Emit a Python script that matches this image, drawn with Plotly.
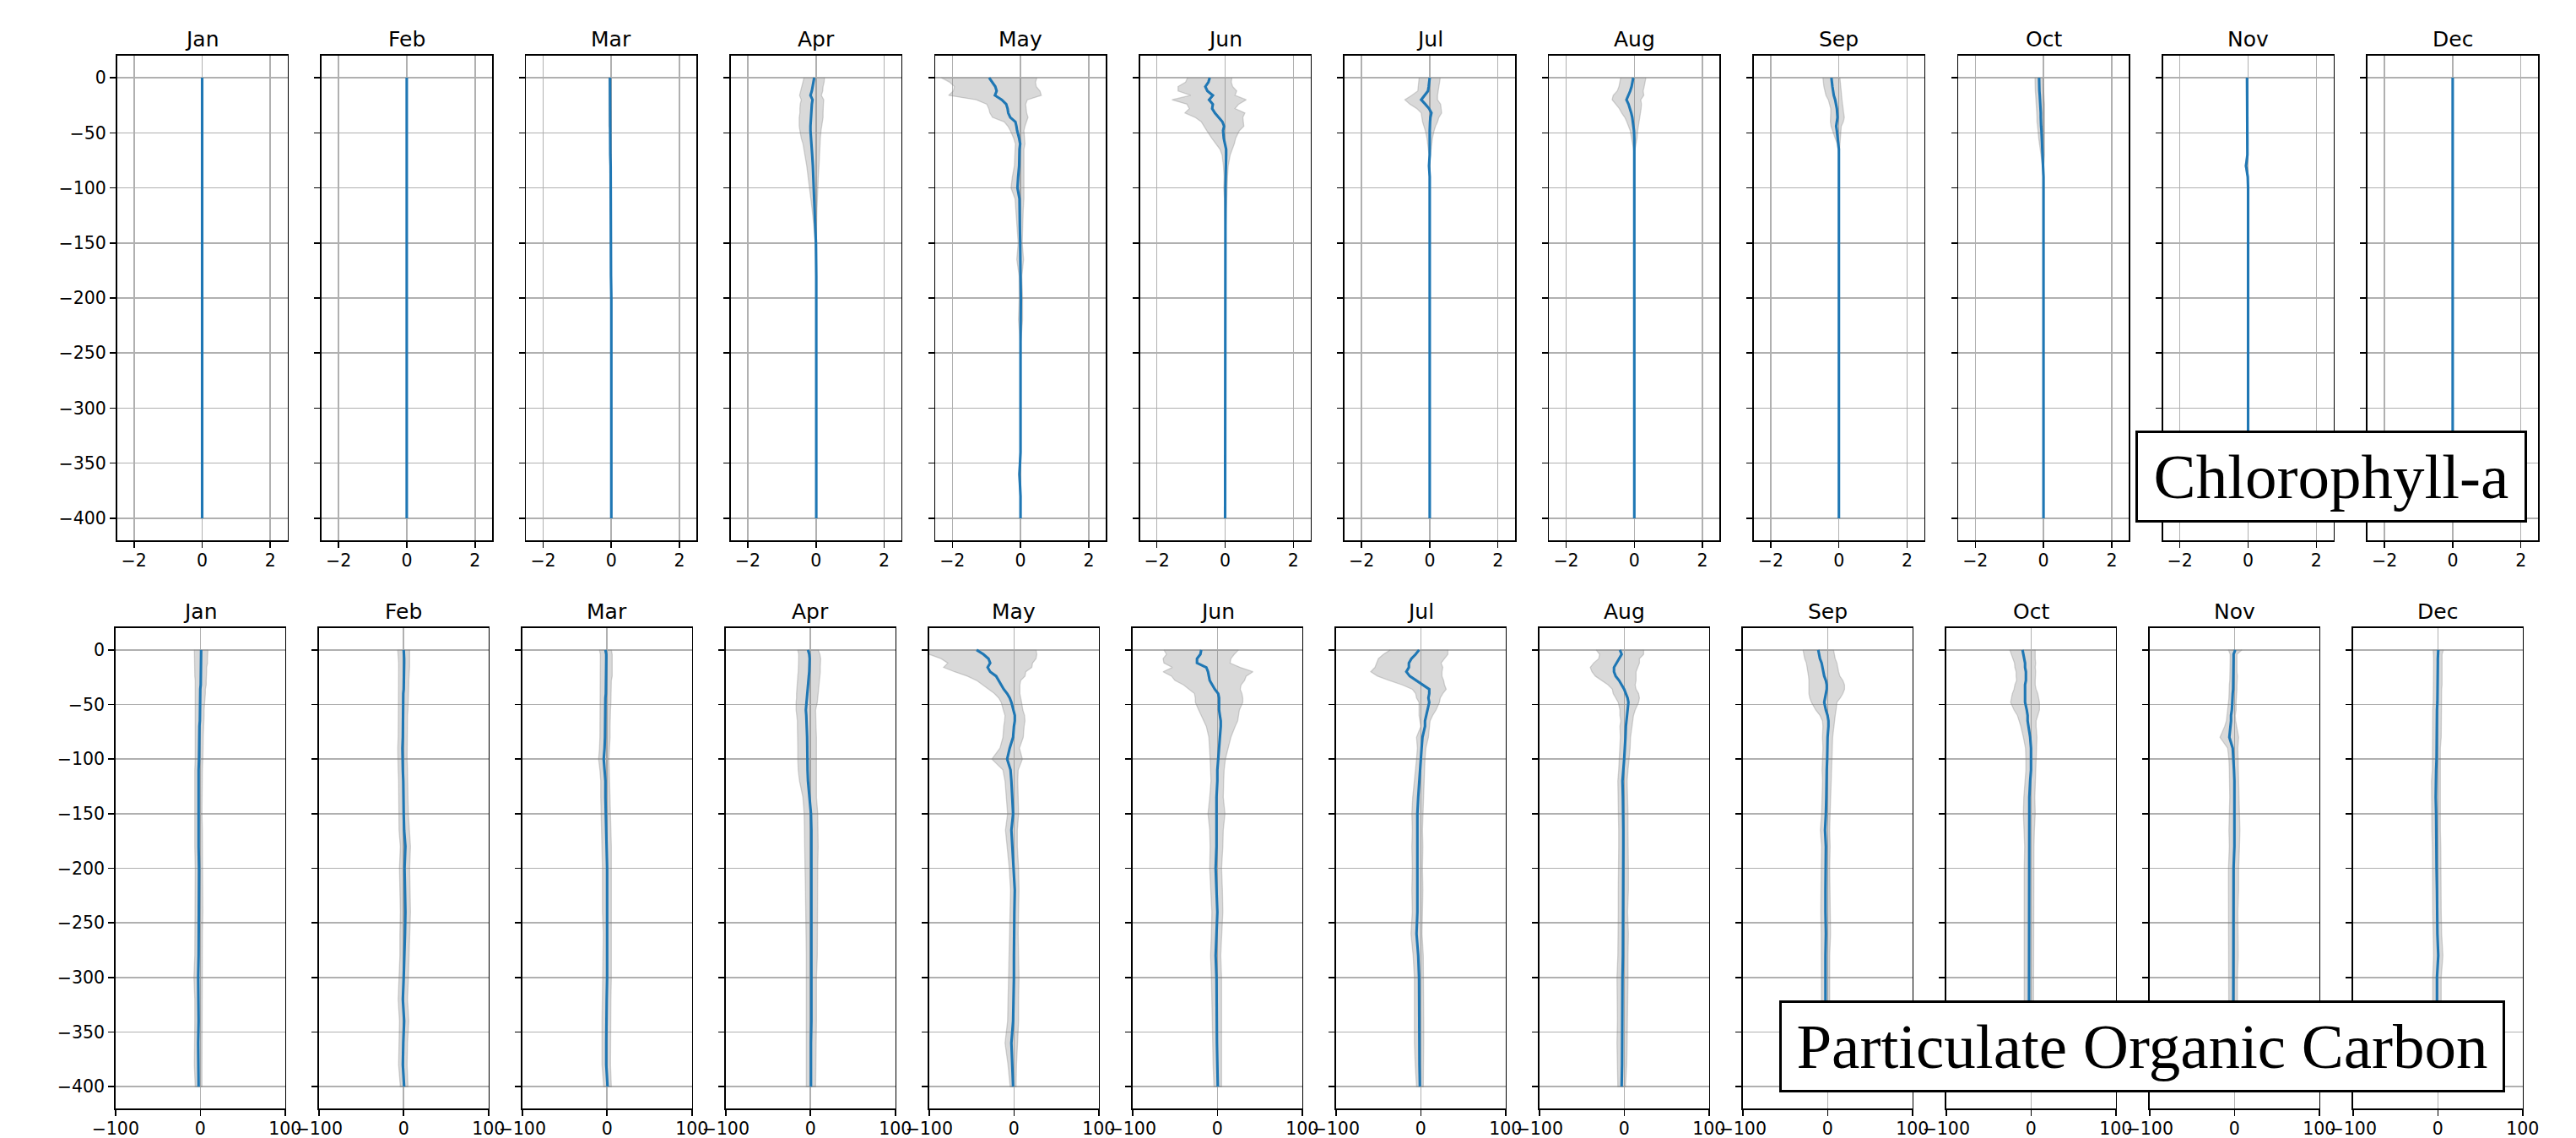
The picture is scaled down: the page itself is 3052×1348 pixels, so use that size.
import plotly.graph_objects as go

MONTHS = ["Jan", "Feb", "Mar", "Apr", "May", "Jun", "Jul", "Aug", "Sep", "Oct", "Nov", "Dec"]

DEPTH = [0, -4, -8, -12, -16, -20, -24, -28, -32, -36, -40, -44, -48,
         -55, -60, -65, -70, -80, -90, -100, -110, -120,
         -135, -150, -165, -180,
         -200, -220, -240, -260, -280, -300, -320, -340, -360, -380, -400]

# ---------------- Chlorophyll-a: monthly mean and spread per depth ----------------
CHL_MEAN = [
    [0] * 37,
    [0] * 37,
    [-0.04, -0.04, -0.04, -0.04, -0.04, -0.04, -0.04, -0.04, -0.04, -0.04, -0.04, -0.04, -0.03,
     -0.03, -0.03, -0.03, -0.03, -0.02, -0.02, -0.02, -0.02, -0.02,
     -0.01, -0.01, -0.01, -0.01,
     0, 0, 0, 0, 0, 0, 0, 0, 0, 0, 0],
    [-0.05, -0.07, -0.1, -0.12, -0.16, -0.1, -0.12, -0.13, -0.13, -0.14, -0.15, -0.16, -0.16,
     -0.15, -0.13, -0.12, -0.11, -0.09, -0.08, -0.07, -0.05, -0.04,
     -0.02, 0, 0.01, 0.01,
     0.01, 0.01, 0.01, 0.01, 0.01, 0.01, 0.01, 0.01, 0.01, 0.01, 0.01],
    [-0.92, -0.82, -0.74, -0.70, -0.75, -0.55, -0.42, -0.38, -0.36, -0.30, -0.15, -0.12, -0.10,
     -0.04, -0.01, -0.03, -0.03, -0.04, -0.07, -0.09, -0.03, -0.03,
     -0.02, -0.01, -0.01, 0,
     0.01, 0, 0, 0, 0, 0, 0, 0, -0.03, 0, 0],
    [-0.45, -0.49, -0.58, -0.52, -0.36, -0.47, -0.36, -0.38, -0.30, -0.18, -0.08, -0.03, -0.06,
     -0.04, 0, 0.03, 0.03, 0.02, 0.02, 0.01, 0.01, 0.01,
     0.01, 0.01, 0.01, 0.01,
     0, 0, 0, 0, 0, 0, 0, 0, 0, 0, 0],
    [0, -0.01, -0.03, -0.05, -0.15, -0.25, -0.13, -0.02, 0.05, 0.02, 0.01, 0, 0,
     0, 0, 0, 0, -0.02, 0, 0, 0, 0,
     0, 0, 0, 0,
     0, 0, 0, 0, 0, 0, 0, 0, 0, 0, 0],
    [-0.03, -0.05, -0.08, -0.12, -0.17, -0.23, -0.17, -0.12, -0.09, -0.06, -0.04, -0.02, -0.01,
     0, 0, 0, 0, 0, 0, 0, 0, 0,
     0, 0, 0, 0,
     0, 0, 0, 0, 0, 0, 0, 0, 0, 0, 0],
    [-0.22, -0.21, -0.19, -0.17, -0.15, -0.11, -0.08, -0.06, -0.05, -0.04, -0.06, -0.08, -0.06,
     -0.03, -0.01, 0, 0, 0, 0, 0, 0, 0,
     0, 0, 0, 0,
     0, 0, 0, 0, 0, 0, 0, 0, 0, 0, 0],
    [-0.13, -0.13, -0.12, -0.12, -0.11, -0.10, -0.09, -0.08, -0.08, -0.08, -0.08, -0.07, -0.06,
     -0.05, -0.04, -0.03, -0.02, -0.01, 0, 0, 0, 0,
     0, 0, 0, 0,
     0, 0, 0, 0, 0, 0, 0, 0, 0, 0, 0],
    [-0.03, -0.03, -0.03, -0.03, -0.03, -0.03, -0.03, -0.03, -0.03, -0.03, -0.03, -0.03, -0.03,
     -0.02, -0.02, -0.02, -0.02, -0.06, -0.01, 0, 0, 0,
     0, 0, 0, 0,
     0, 0, 0, 0, 0, 0, 0, 0, 0, 0, 0],
    [0] * 37,
]

CHL_STD = [
    [0] * 37,
    [0] * 37,
    [0.03, 0.03, 0.03, 0.03, 0.03, 0.03, 0.03, 0.03, 0.03, 0.03, 0.03, 0.03, 0.02,
     0.02, 0.02, 0.02, 0.02, 0.02, 0.02, 0.02, 0.02, 0.02,
     0.01, 0.01, 0.01, 0.01,
     0, 0, 0, 0, 0, 0, 0, 0, 0, 0, 0],
    [0.30, 0.31, 0.31, 0.32, 0.32, 0.33, 0.34, 0.34, 0.34, 0.35, 0.34, 0.33, 0.31,
     0.28, 0.25, 0.23, 0.21, 0.18, 0.15, 0.12, 0.09, 0.07,
     0.04, 0.02, 0.01, 0,
     0, 0, 0, 0, 0, 0, 0, 0, 0, 0, 0],
    [1.40, 1.26, 1.20, 1.27, 1.36, 0.75, 0.57, 0.55, 0.54, 0.52, 0.33, 0.25, 0.20,
     0.16, 0.14, 0.13, 0.14, 0.14, 0.17, 0.19, 0.13, 0.11,
     0.08, 0.06, 0.10, 0.04,
     0.05, 0.06, 0.01, 0, 0, 0, 0, 0, 0.03, 0, 0],
    [0.65, 0.67, 0.80, 0.86, 0.65, 1.09, 0.76, 0.67, 0.88, 0.70, 0.62, 0.58, 0.48,
     0.35, 0.27, 0.18, 0.12, 0.07, 0.05, 0.05, 0.03, 0.02,
     0.01, 0, 0, 0,
     0, 0, 0, 0, 0, 0, 0, 0, 0, 0, 0],
    [0.31, 0.31, 0.30, 0.30, 0.38, 0.48, 0.45, 0.36, 0.30, 0.25, 0.22, 0.17, 0.13,
     0.08, 0.06, 0.04, 0.02, 0.01, 0, 0, 0, 0,
     0, 0, 0, 0,
     0, 0, 0, 0, 0, 0, 0, 0, 0, 0, 0],
    [0.37, 0.37, 0.37, 0.38, 0.45, 0.42, 0.38, 0.32, 0.28, 0.22, 0.18, 0.14, 0.11,
     0.08, 0.05, 0.02, 0.01, 0, 0, 0, 0, 0,
     0, 0, 0, 0,
     0, 0, 0, 0, 0, 0, 0, 0, 0, 0, 0],
    [0.25, 0.25, 0.25, 0.24, 0.23, 0.20, 0.19, 0.18, 0.19, 0.20, 0.19, 0.15, 0.12,
     0.08, 0.04, 0.02, 0, 0, 0, 0, 0, 0,
     0, 0, 0, 0,
     0, 0, 0, 0, 0, 0, 0, 0, 0, 0, 0],
    [0.12, 0.12, 0.12, 0.12, 0.12, 0.12, 0.12, 0.12, 0.11, 0.11, 0.11, 0.10, 0.10,
     0.09, 0.08, 0.06, 0.05, 0.02, 0.01, 0, 0, 0,
     0, 0, 0, 0,
     0, 0, 0, 0, 0, 0, 0, 0, 0, 0, 0],
    [0.02, 0.02, 0.02, 0.02, 0.02, 0.02, 0.02, 0.02, 0.02, 0.02, 0.02, 0.02, 0.02,
     0.02, 0.02, 0.01, 0.01, 0.03, 0, 0, 0, 0,
     0, 0, 0, 0,
     0, 0, 0, 0, 0, 0, 0, 0, 0, 0, 0],
    [0] * 37,
]

# ---------------- Particulate Organic Carbon: monthly mean and spread ----------------
POC_MEAN = [
    [1, 1, 1, 1, 0.5, 0.5, 0.5, 0.5, 0.5, 0, 0, 0, 0,
     -0.5, -0.5, -0.5, -1, -1, -1.5, -1.5, -2, -2,
     -2.5, -2.5, -2, -2,
     -1.5, -1.5, -1.5, -2, -2, -2.5, -2, -2, -2.5, -2.5, -2],
    [0, 0.5, 0.5, 0.5, 0.5, 0.5, 0, 0, 0, 0, -0.5, -0.5, -0.5,
     -0.5, -1, -1, -1, -1, -1.5, -1.5, -1, -0.5,
     -0.5, 0, 0.5, 2,
     1, 1.5, 2, 1.5, 1, 0, -1, 0.5, -0.5, -1, 0.5],
    [-2, -1, -1, -1, -1, -1, -1, -1.5, -1.5, -1.5, -1.5, -2, -2,
     -2, -2, -2.5, -2.5, -2.5, -3, -4, -3, -2,
     -2, -1.5, -1, -0.5,
     0, 0, 0, 0.5, 0, 0, -0.5, -1, -1, -1, 0.5],
    [-3, -1.5, -1, -1, -1.5, -1.5, -2, -2.5, -3, -3, -3.5, -4, -4.5,
     -5.5, -5, -4.5, -4.5, -4, -4, -4, -3.5, -3,
     -1, 0.5, 1, 1,
     1, 1, 1.5, 1.5, 1.5, 1, 1, 1, 0.5, 0.5, 0.5],
    [-44, -36, -30, -28, -31, -28, -21, -18, -15, -12, -8, -5, -3,
     -1, 1, 1, 0, -1, -5, -8, -4, -3,
     -2, -1, -3, -2,
     0, 1, 0.5, 0, 0, 0, -0.5, -1, -3, -2, -1],
    [-19, -20, -24, -24, -13, -11, -10, -9, -6, -3, 1, 2, 2,
     2, 3, 4, 4, 3, 2, 0.5, 0, 0,
     -1, -1, -1, -1,
     -2, -1, 0, -1, -2, -1, -1, -1, -0.5, 0, 0.5],
    [-2, -6, -11, -14, -14, -17, -13, -5, 3, 10, 10, 9, 10,
     8, 6, 5, 5, 2, 1, 0, -1, -2,
     -3, -4, -4, -4,
     -4, -4, -4, -5, -3, -2, -2, -2, -2, -1.5, -1],
    [-5, -3, -6, -9, -12, -12, -10, -6, -3, 0, 2, 4, 5,
     4, 3, 3, 2, 1.5, 1, 0, -1, -2,
     -1.5, -1, -1, -1,
     -1, -1, -1.5, -1, -1.5, -2, -2, -2, -2.5, -2.5, -3],
    [-11, -10, -9, -7, -6, -5, -4, -2, -1, -1, -2, -3, -4,
     -2, 0, 1, 1, 0, 0, -0.5, -1, -1,
     -1.5, -2, -3, -2,
     -2.5, -2.5, -2.5, -2, -2.5, -2.5, -2.5, -2.5, -2.5, -2.5, -2.5],
    [-10, -9, -8, -7, -7, -6, -6, -6, -7, -7, -7, -7, -7,
     -5, -4, -4, -3, -1, 0, 0, 0, -1,
     -2, -2, -2, -2,
     -2.5, -2.5, -2.5, -2.5, -2.5, -2.5, -2.5, -2.5, -2.5, -2.5, -2.5],
    [1, -1, -1, -1, -1, -1, -1, -1, -1.5, -1.5, -2, -2, -2.5,
     -3, -4, -4, -4.5, -6, -2, -1, -0.5, 0,
     0, 0, 0, 0,
     -1, -1, -1.5, -1.5, -1, -1.5, -1.5, -1.5, -1.5, -1.5, -1.5],
    [0.5, 0, 0, 0, 0, 0, 0, 0, 0, -0.5, -0.5, -0.5, -0.5,
     -1, -1, -1, -1, -1, -1.5, -1.5, -2, -2.5,
     -2.5, -2, -2, -1.5,
     -1.5, -1, -1, -0.5, 0.5, -1, -1, -1, -1, -0.5, 0],
]

POC_STD = [
    [8, 8, 7.5, 7.5, 7, 7, 7, 6.5, 6.5, 6, 6, 6, 5.5,
     5, 5, 5, 5, 4.5, 4.5, 4.5, 4.5, 4.5,
     4.5, 4.5, 4.5, 4.5,
     4.5, 4.5, 4.5, 4.5, 4.5, 5, 4.5, 4.5, 4.5, 4.5, 4],
    [7, 7, 6.5, 6.5, 6.5, 6.5, 6.5, 6, 6, 6, 6, 6, 6,
     5.5, 5.5, 5.5, 5.5, 5.5, 5.5, 5.5, 5.5, 5.5,
     5.5, 5.5, 6, 6,
     6, 6, 6, 6, 5.5, 5.5, 5.5, 5.5, 5, 5, 4.5],
    [7, 7, 7, 7, 7, 7, 7, 6.5, 6.5, 6.5, 6.5, 6.5, 6.5,
     6, 6, 6, 6, 6, 6, 6, 5.5, 5.5,
     5.5, 5.5, 5.5, 5.5,
     5.5, 5.5, 5.5, 5, 5, 5, 5, 5, 5, 5, 4.5],
    [12, 12.5, 13, 13, 13, 13, 13, 13, 13, 13, 13, 12.5, 12.5,
     11.5, 11, 11, 11, 11, 11, 11, 11, 10,
     8, 8, 8, 8,
     7.5, 7, 7, 6.5, 6.5, 6, 6, 6, 6, 6, 5.5],
    [70, 63, 56, 50, 52, 42, 34, 26, 22, 19, 15, 13, 12,
     11.5, 11.5, 12, 12, 12, 11.5, 18, 9, 7.5,
     7, 6.5, 7, 6,
     5.5, 5, 5, 5, 5.5, 6, 6, 6.5, 7.5, 5, 3.5],
    [44, 40, 40, 39, 40, 53, 44, 41, 34, 30, 28, 28, 28,
     24, 22, 20, 17, 13, 11, 9, 8, 7.5,
     8, 10, 8, 7.5,
     7, 7, 6.5, 6, 6, 6, 5.5, 5.5, 5.5, 5, 4.5],
    [34, 38, 39, 38, 40, 42, 38, 32, 25, 20, 16, 14, 12,
     10, 8, 6, 5, 7, 5, 5, 5.5, 6,
     6.5, 6.5, 6, 6.5,
     6, 6.5, 6, 6.5, 6, 5.5, 5.5, 5.5, 5.5, 5, 4],
    [28, 26, 24, 27, 28, 26, 24, 20, 16, 14, 15, 14, 12,
     9, 8, 7, 7, 6, 6, 6, 5.5, 5.5,
     5.5, 5.5, 5.5, 5.5,
     6, 6, 5.5, 6, 6, 6.5, 6, 6, 6, 5.5, 4.5],
    [18, 18, 18, 18, 18, 18, 18.5, 20, 21, 21, 20, 18, 15,
     12, 9, 7, 6.5, 6, 5.5, 5.5, 5.5, 5,
     5, 5, 5.5, 5,
     5, 5.5, 5.5, 5.5, 5, 5, 5, 5, 5, 4.5, 4],
    [15, 14, 13, 12.5, 12, 11.5, 11.5, 11, 12, 13, 15, 16, 17,
     15, 12, 10, 9, 8, 6.5, 6, 6, 6,
     6.5, 7, 6, 5.5,
     5.5, 5.5, 6, 5.5, 5.5, 5.5, 5.5, 5.5, 5.5, 5, 4.5],
    [8, 4, 4, 4, 4, 4, 4.5, 4.5, 4.5, 4.5, 4.5, 4.5, 4.5,
     5, 5, 5.5, 7, 11, 6, 5.5, 5.5, 5.5,
     5.5, 6, 6.5, 6,
     6, 6, 5.5, 5.5, 5.5, 5, 5, 5, 5, 5, 4.5],
    [6, 5, 5, 5, 5, 5, 5, 5, 5, 5, 5, 5, 5,
     5, 5, 5, 5, 5, 4.5, 4.5, 4.5, 5,
     5, 5, 5, 5,
     5, 5, 5, 5, 5.5, 5, 5, 5, 5, 4.5, 4],
]

Y_TICKS = [0, -50, -100, -150, -200, -250, -300, -350, -400]
Y_TICK_TEXT = ["0", "\u221250", "\u2212100", "\u2212150", "\u2212200", "\u2212250",
               "\u2212300", "\u2212350", "\u2212400"]
CHL_X_TICKS = [-2, 0, 2]
CHL_X_TEXT = ["\u22122", "0", "2"]
POC_X_TICKS = [-100, 0, 100]
POC_X_TEXT = ["\u2212100", "0", "100"]

# ---------------- layout geometry (pixels) ----------------
W, H = 3052, 1348
ROWS = [
    dict(mean=CHL_MEAN, std=CHL_STD, left=138.5, pitch=242.4, width=202.0,
         top=66.0, bottom=640.0, xr=[-2.5, 2.5], xt=CHL_X_TICKS, xtt=CHL_X_TEXT),
    dict(mean=POC_MEAN, std=POC_STD, left=136.8, pitch=241.0, width=201.0,
         top=744.0, bottom=1313.0, xr=[-100, 100], xt=POC_X_TICKS, xtt=POC_X_TEXT),
]

TICK_FONT = dict(family="DejaVu Sans", size=20.5, color="black")
TITLE_FONT = dict(family="DejaVu Sans", size=25, color="black")
BLUE = "#1f77b4"
FILL = "rgba(128,128,128,0.30)"
EDGE = "rgba(128,128,128,0.32)"

fig = go.Figure()
layout = {}
annotations = []
k = 0
for row in ROWS:
    for i, month in enumerate(MONTHS):
        k += 1
        xa = "x" if k == 1 else f"x{k}"
        ya = "y" if k == 1 else f"y{k}"
        mean = row["mean"][i]
        std = row["std"][i]
        lo = [m - s for m, s in zip(mean, std)]
        hi = [m + s for m, s in zip(mean, std)]
        fig.add_trace(go.Scatter(
            x=lo + hi[::-1], y=DEPTH + DEPTH[::-1], mode="lines", fill="toself",
            fillcolor=FILL, line=dict(color=EDGE, width=1.3),
            xaxis=xa, yaxis=ya, showlegend=False, hoverinfo="skip"))
        fig.add_trace(go.Scatter(
            x=mean, y=DEPTH, mode="lines", line=dict(color=BLUE, width=3.1),
            xaxis=xa, yaxis=ya, showlegend=False))

        x0 = row["left"] + i * row["pitch"]
        x1 = x0 + row["width"]
        xdom = [x0 / W, x1 / W]
        ydom = [1 - row["bottom"] / H, 1 - row["top"] / H]
        common = dict(ticks="outside", ticklen=7, tickwidth=1.6, tickcolor="black",
                      showline=True, mirror=True, linecolor="black", linewidth=1.6,
                      showgrid=True, gridcolor="#b0b0b0", gridwidth=1.6,
                      zeroline=False, tickfont=TICK_FONT, fixedrange=True,
                      automargin=False)
        layout["xaxis" if k == 1 else f"xaxis{k}"] = dict(
            domain=xdom, range=row["xr"], tickmode="array", tickvals=row["xt"],
            ticktext=row["xtt"], anchor=ya, ticklabelstandoff=-2, **common)
        layout["yaxis" if k == 1 else f"yaxis{k}"] = dict(
            domain=ydom, range=[-420, 20], tickmode="array", tickvals=Y_TICKS,
            ticktext=Y_TICK_TEXT, showticklabels=(i == 0), anchor=xa, **common)
        annotations.append(dict(
            text=month, x=(x0 + x1) / 2 / W, y=1 - row["top"] / H, xref="paper",
            yref="paper", xanchor="center", yanchor="bottom", yshift=3,
            showarrow=False, font=TITLE_FONT))

annotations.append(dict(
    text="Chlorophyll-a", x=2762 / W, y=1 - 564.5 / H, xref="paper", yref="paper",
    xanchor="center", yanchor="middle", showarrow=False,
    font=dict(family="Liberation Serif", size=75, color="black"),
    bgcolor="white", bordercolor="black", borderwidth=3, borderpad=0,
    width=458, height=103))
annotations.append(dict(
    text="Particulate Organic Carbon", x=2538 / W, y=1 - 1239.5 / H, xref="paper",
    yref="paper", xanchor="center", yanchor="middle", showarrow=False,
    font=dict(family="Liberation Serif", size=75, color="black"),
    bgcolor="white", bordercolor="black", borderwidth=3, borderpad=0,
    width=854, height=103))

fig.update_layout(
    width=W, height=H, autosize=False,
    margin=dict(l=0, r=0, t=0, b=0, autoexpand=False),
    paper_bgcolor="white", plot_bgcolor="white",
    showlegend=False, annotations=annotations, **layout)

fig.write_html("out.html", config={"displayModeBar": False, "staticPlot": True},
               post_script="document.body.style.margin='0px';document.body.style.overflow='hidden';")
